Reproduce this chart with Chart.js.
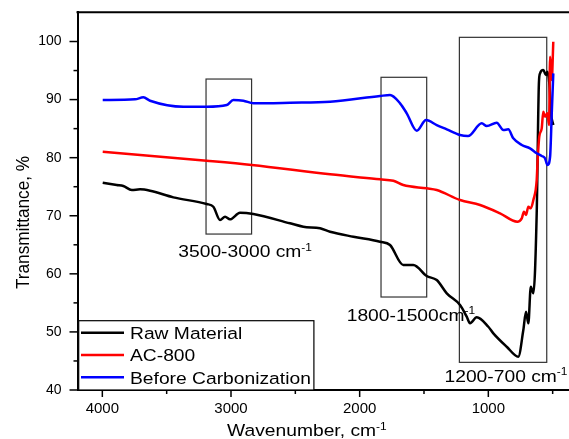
<!DOCTYPE html>
<html lang="en">
<head>
<meta charset="UTF-8">
<title>FTIR spectra</title>
<style>
body { margin:0; padding:0; background:#fff; overflow:hidden; }
#wrap { width:569px; height:439px; position:relative; }
</style>
</head>
<body>
<div id="wrap"><canvas id="chart"></canvas></div>

<script src="https://cdn.jsdelivr.net/npm/chart.js"></script>
<script>
// wavenumber (cm-1) and transmittance (%)
const rawX = [3997,3888,3837,3771,3707,3629,3448,3189,3137,3085,3046,3008,2930,2826,2541,2438,2308,2230,2049,1842,1764,1661,1583,1479,1401,1323,1220,1168,1142,1090,1000,961,857,767,728,707,689,670,650,624,607,598,573,552,541,526,513,495];
const rawY = [75.69,75.29,75.12,74.43,74.55,74.31,73.17,72.02,71.56,69.27,69.83,69.39,70.52,70.3,68.7,68.11,67.84,67.25,66.39,65.53,64.96,61.52,61.52,59.62,58.93,56.64,54.63,52.62,51.48,52.51,50.89,49.76,47.45,45.73,50.33,53.48,51.48,57.78,56.64,70.42,92.8,94.52,95.09,94.23,94.8,92.8,87.64,85.62];

const acX = [3997,3189,2839,2230,1842,1738,1661,1479,1401,1220,1064,909,775,740,723,707,689,670,650,624,618,604,585,573,559,541,528,520,507,495];
const acY = [81.03,79.48,78.74,77.13,76.27,76.03,75.29,74.72,74.43,72.71,71.85,70.42,68.97,69.56,70.7,70.13,71.56,71.28,72.71,76.15,79.03,83.61,85.05,87.91,87.05,87.64,85.62,97.38,93.37,99.97];

const befX = [3997,3746,3681,3629,3370,3189,3033,2982,2904,2826,2541,2230,1842,1764,1686,1634,1556,1484,1401,1323,1220,1158,1051,1012,935,883,845,806,740,676,624,585,559,541,520,507,495];
const befY = [89.93,90.05,90.39,89.81,88.77,88.77,89.07,89.93,89.81,89.36,89.46,89.63,90.62,90.79,89.36,87.64,84.64,86.48,85.62,84.88,83.9,83.73,85.92,85.45,86.02,84.76,84.88,83.33,82.18,81.61,80.75,80.29,79.89,78.74,80.16,87.64,94.52];

const seriesNames = ['Raw Material', 'AC-800', 'Before Carbonization'];

const xMajor = [4000, 3000, 2000, 1000];
const xMinor = [3500, 2500, 1500, 500];
const yMajor = [40, 50, 60, 70, 80, 90, 100];
const yMinor = [45, 55, 65, 75, 85, 95];

// marked bands: [wavenumber from, wavenumber to, T bottom, T top]
const bandBoxes = [[3194, 2840, 66.85, 93.54], [1834, 1479, 56.01, 93.84], [1225, 546, 44.76, 100.72]];
const bandLabels = ['3500-3000 cm', '1800-1500cm', '1200-700 cm'];

const FONT = '"Liberation Sans", Arial, sans-serif';
const STRETCH = 1.12;

function pts(xs, ys) { return xs.map((x, i) => ({ x: x, y: ys[i] })); }

// text with a small "-1" superscript, slightly wide like the original
function supText(ctx, str, sup, x, y, size) {
  ctx.save();
  ctx.translate(x, y);
  ctx.scale(STRETCH, 1);
  ctx.font = size + 'px ' + FONT;
  ctx.fillText(str, 0, 0);
  const w = ctx.measureText(str).width;
  if (sup) {
    ctx.font = (size * 0.62) + 'px ' + FONT;
    ctx.fillText(sup, w, -size * 0.38);
  }
  ctx.restore();
}

const extras = {
  id: 'extras',
  beforeDatasetsDraw(chart) {
    const ctx = chart.ctx, xs = chart.scales.x, ys = chart.scales.y;
    ctx.save();
    ctx.strokeStyle = '#333';
    ctx.lineWidth = 1.2;
    bandBoxes.forEach(b => {
      const x0 = xs.getPixelForValue(b[0]), x1 = xs.getPixelForValue(b[1]);
      const y0 = ys.getPixelForValue(b[3]), y1 = ys.getPixelForValue(b[2]);
      ctx.strokeRect(x0, y0, x1 - x0, y1 - y0);
    });
    ctx.restore();
  },
  afterDraw(chart) {
    const ctx = chart.ctx, xs = chart.scales.x, ys = chart.scales.y, a = chart.chartArea;
    ctx.save();
    ctx.strokeStyle = '#000';
    // top frame line
    ctx.lineWidth = 2;
    ctx.beginPath(); ctx.moveTo(a.left - 1, a.top); ctx.lineTo(a.right, a.top); ctx.stroke();
    // tick marks, outward
    ctx.lineWidth = 1.5;
    const tick = (x0, y0, x1, y1) => { ctx.beginPath(); ctx.moveTo(x0, y0); ctx.lineTo(x1, y1); ctx.stroke(); };
    xMajor.forEach(v => { const p = xs.getPixelForValue(v); tick(p, a.bottom, p, a.bottom + 7); });
    xMinor.forEach(v => { const p = xs.getPixelForValue(v); tick(p, a.bottom, p, a.bottom + 4); });
    yMajor.forEach(v => { const p = ys.getPixelForValue(v); tick(a.left, p, a.left - 8, p); });
    yMinor.forEach(v => { const p = ys.getPixelForValue(v); tick(a.left, p, a.left - 4, p); });

    // band labels
    ctx.fillStyle = '#000';
    ctx.textBaseline = 'alphabetic';
    ctx.textAlign = 'left';
    supText(ctx, bandLabels[0], '-1', 178.3, 257.3, 17.2);
    supText(ctx, bandLabels[1], '-1', 346.7, 320.7, 17.2);
    supText(ctx, bandLabels[2], '-1', 444.5, 381.7, 17.2);

    // legend
    const lx = a.left + 1.2, ly = 320.7, lw = 235.2, lh = a.bottom - ly;
    ctx.fillStyle = '#fff';
    ctx.fillRect(lx, ly, lw, lh);
    ctx.lineWidth = 1.2;
    ctx.strokeStyle = '#000';
    ctx.strokeRect(lx, ly, lw, lh);
    chart.data.datasets.forEach((ds, i) => {
      const yy = ly + 12 + 22.3 * i;
      ctx.strokeStyle = ds.borderColor;
      ctx.lineWidth = 2.6;
      ctx.beginPath(); ctx.moveTo(lx + 2.3, yy); ctx.lineTo(lx + 45.3, yy); ctx.stroke();
      ctx.fillStyle = '#000';
      supText(ctx, ds.label, '', lx + 51.3, ly + 18.3 + 22.3 * i, 17.2);
    });

    // axis titles
    ctx.fillStyle = '#000';
    supText(ctx, 'Wavenumber, cm', '-1', 227, 436.3, 17.2);
    ctx.save();
    ctx.translate(29, 222.5);
    ctx.rotate(-Math.PI / 2);
    ctx.scale(1, STRETCH);
    ctx.font = '17.2px ' + FONT;
    ctx.textAlign = 'center';
    ctx.fillText('Transmittance, %', 0, 0);
    ctx.restore();
    ctx.restore();
  }
};

new Chart(document.getElementById('chart'), {
  type: 'line',
  data: {
    datasets: [
      { label: seriesNames[0], data: pts(rawX, rawY), borderColor: '#000000', order: 3 },
      { label: seriesNames[1], data: pts(acX, acY), borderColor: '#ff0000', order: 2 },
      { label: seriesNames[2], data: pts(befX, befY), borderColor: '#0000ff', order: 1 }
    ]
  },
  options: {
    responsive: true,
    maintainAspectRatio: false,
    animation: false,
    layout: { padding: { left: 0, right: 0, top: 12.3, bottom: 0 } },
    elements: {
      point: { radius: 0 },
      line: { borderWidth: 2.5, cubicInterpolationMode: 'monotone', fill: false }
    },
    plugins: { legend: { display: false }, tooltip: { enabled: false } },
    scales: {
      x: {
        type: 'linear',
        reverse: true,
        min: 373,
        max: 4193,
        grid: { display: false, drawTicks: true, tickLength: 7 },
        border: { display: true, color: '#000', width: 2 },
        afterBuildTicks: s => { s.ticks = xMajor.concat(xMinor).sort((p, q) => p - q).map(v => ({ value: v })); },
        afterFit: s => { s.height = 49; s.paddingLeft = 0; s.paddingRight = 0; },
        ticks: {
          autoSkip: false, maxRotation: 0, padding: 3, color: '#000',
          font: { family: FONT, size: 15 },
          callback: v => xMajor.includes(v) ? String(v) : ''
        }
      },
      y: {
        min: 40,
        max: 105.03,
        grid: { display: false, drawTicks: true, tickLength: 8 },
        border: { display: true, color: '#000', width: 2 },
        afterBuildTicks: s => { s.ticks = yMajor.concat(yMinor).sort((p, q) => p - q).map(v => ({ value: v })); },
        afterFit: s => { s.width = 77.5; s.paddingTop = 0; s.paddingBottom = 0; },
        ticks: {
          autoSkip: false, padding: 8, color: '#000',
          font: { family: FONT, size: 14 },
          callback: v => yMajor.includes(v) ? String(v) : ''
        }
      }
    }
  },
  plugins: [extras]
});
</script>
</body>
</html>
